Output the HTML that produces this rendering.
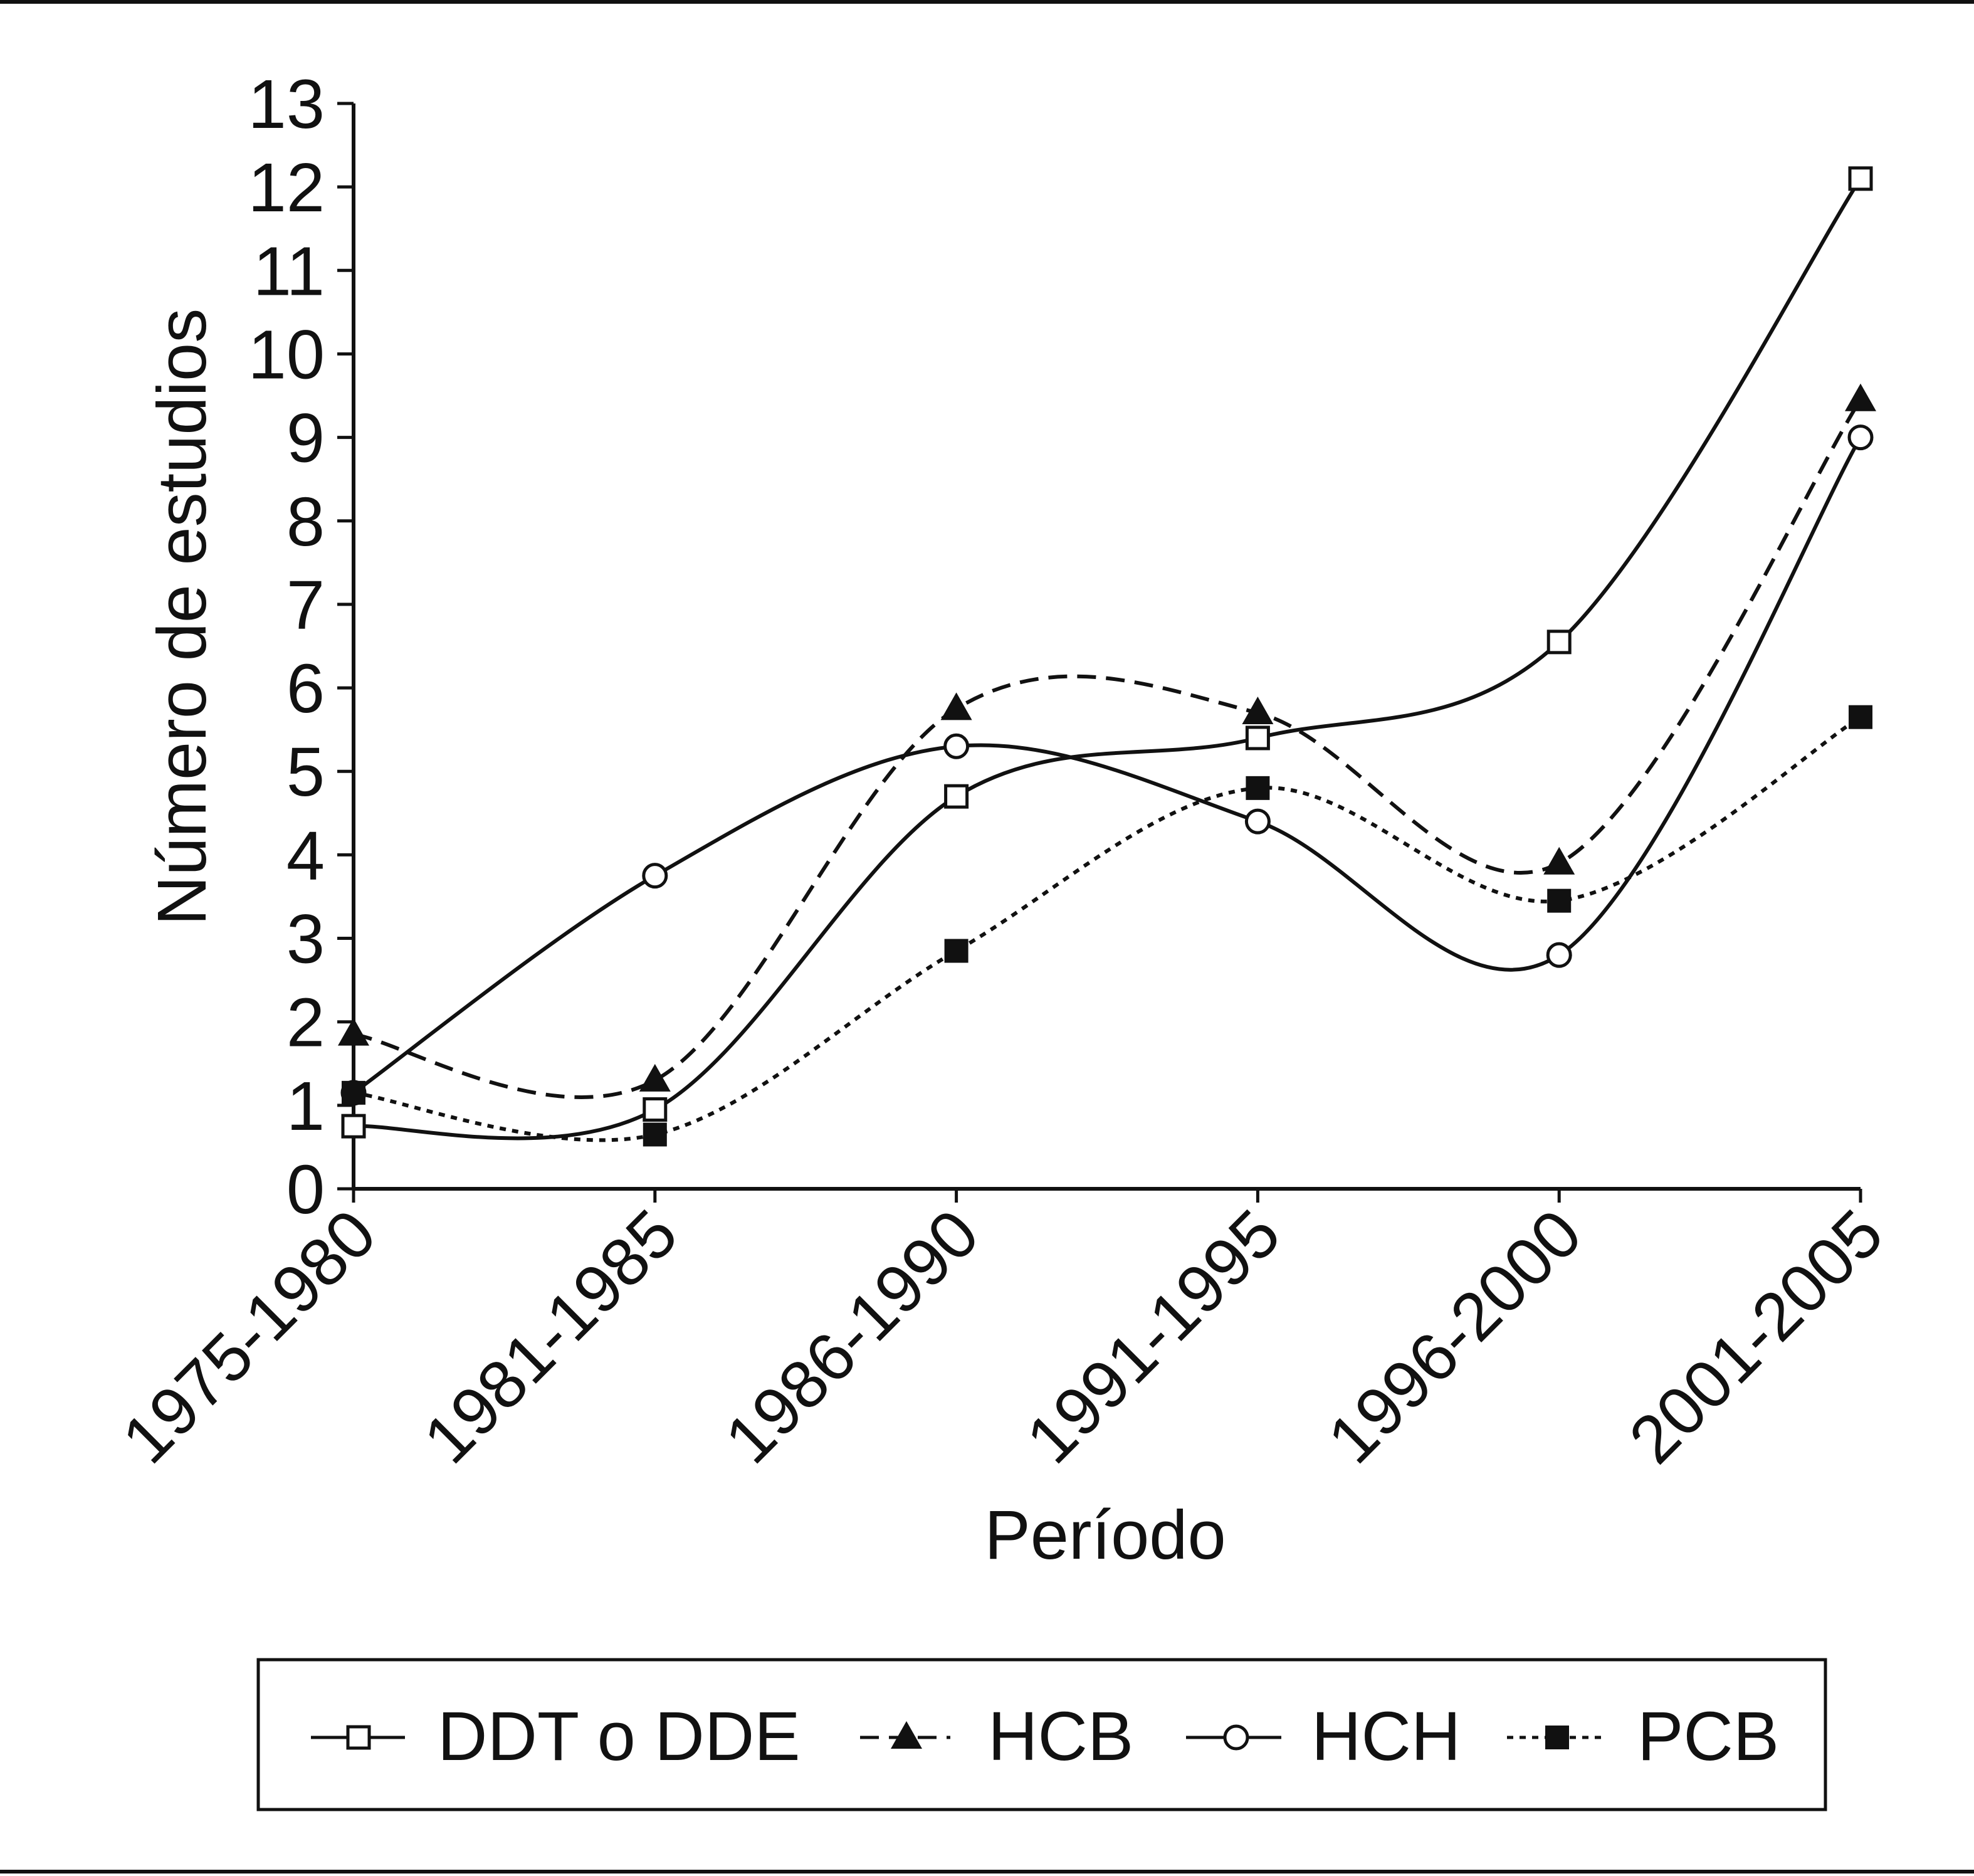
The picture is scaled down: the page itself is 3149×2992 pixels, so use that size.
<!DOCTYPE html>
<html><head><meta charset="utf-8"><style>
html,body{margin:0;padding:0;background:#fff}
svg{display:block}
text{font-family:"Liberation Sans",Arial,sans-serif;fill:#111}
</style></head><body>
<svg id="c" width="3149" height="2992" viewBox="0 0 3149 2992" xmlns="http://www.w3.org/2000/svg">
<rect x="0" y="0" width="3149" height="6" fill="#111"/>
<rect x="0" y="2982" width="3149" height="6" fill="#111"/>
<g id="axes"></g>
<g id="series"></g>
<text x="290" y="984" font-size="110" text-anchor="middle" transform="rotate(-90 290 984)" dy="38">Número de estudios</text>
<text x="1763" y="2486" font-size="110" text-anchor="middle">Período</text>
<rect x="412" y="2647" width="2500" height="239" fill="none" stroke="#111" stroke-width="5"/>
<g id="legend"></g>
</svg>
<script>
const categories=["1975-1980","1981-1985","1986-1990","1991-1995","1996-2000","2001-2005"];
const yTicks=[0,1,2,3,4,5,6,7,8,9,10,11,12,13];
const ddt=[0.75,0.95,4.7,5.4,6.55,12.1];
const hcb=[1.85,1.3,5.75,5.7,3.9,9.45];
const hch=[1.15,3.75,5.3,4.4,2.8,9.0];
const pcb=[1.15,0.65,2.85,4.8,3.45,5.65];
const seriesNames=["DDT o DDE","HCB","HCH","PCB"];

const NS="http://www.w3.org/2000/svg";
const X0=564,XS=480.8,Y0=1896,YS=(1896-165)/13;
const xs=i=>X0+i*XS, ys=v=>Y0-v*YS;
function mk(tag,attrs,parent){const e=document.createElementNS(NS,tag);for(const k in attrs)e.setAttribute(k,attrs[k]);parent.appendChild(e);return e;}
const axes=document.getElementById('axes');
let a=mk('line',{x1:X0,y1:ys(13),x2:X0,y2:Y0,stroke:'#111','stroke-width':6},axes);


a=mk('line',{x1:X0,y1:Y0,x2:xs(5),y2:Y0,stroke:'#111','stroke-width':6},axes);


yTicks.forEach(t=>{
 const l=mk('line',{x1:X0-26,y1:ys(t),x2:X0,y2:ys(t),stroke:'#111','stroke-width':5},axes);
 
 
 const tx=mk('text',{x:518,y:ys(t)+39,'font-size':110,'text-anchor':'end'},axes);
 tx.textContent=t;
 
 
});
categories.forEach((c,i)=>{
 const l=mk('line',{x1:xs(i),y1:Y0,x2:xs(i),y2:Y0+22,stroke:'#111','stroke-width':5},axes);
 
 
 const px=xs(i)+42,py=1975;
 const tx=mk('text',{x:px,y:py,'font-size':108,'text-anchor':'end',transform:`rotate(-45 ${px} ${py})`},axes);
 tx.textContent=c;
 
 
});
function smooth(vals){
 const p=vals.map((v,i)=>[xs(i),ys(v)]);
 let d=`M${p[0][0]},${p[0][1]}`;
 for(let i=0;i<p.length-1;i++){
  const p0=p[i-1]||p[i],p1=p[i],p2=p[i+1],p3=p[i+2]||p[i+1];
  const c1=[p1[0]+(p2[0]-p0[0])/6,p1[1]+(p2[1]-p0[1])/6];
  const c2=[p2[0]-(p3[0]-p1[0])/6,p2[1]-(p3[1]-p1[1])/6];
  d+=` C${c1[0]},${c1[1]} ${c2[0]},${c2[1]} ${p2[0]},${p2[1]}`;
 }
 return d;
}
function marker(type,x,y,g){
 if(type==='sq') return mk('rect',{x:x-17,y:y-17,width:34,height:34,fill:'#fff',stroke:'#111','stroke-width':5},g);
 if(type==='fsq') return mk('rect',{x:x-19,y:y-19,width:38,height:38,fill:'#111'},g);
 if(type==='tri') return mk('polygon',{points:`${x},${y-26} ${x-25},${y+18} ${x+25},${y+18}`,fill:'#111'},g);
 return mk('circle',{cx:x,cy:y,r:18,fill:'#fff',stroke:'#111','stroke-width':5},g);
}
const defs=[
 {vals:ddt,dash:'none',m:'sq',name:'ddt'},
 {vals:hcb,dash:'30 16',m:'tri',name:'hcb'},
 {vals:hch,dash:'none',m:'circ',name:'hch'},
 {vals:pcb,dash:'10 10',m:'fsq',name:'pcb'}
];
const sg=document.getElementById('series');
defs.forEach(s=>{
 const g=mk('g',{},sg);
 
 
 const pth=mk('path',{d:smooth(s.vals),fill:'none',stroke:'#111','stroke-width':6,'stroke-dasharray':s.dash},g);
 
 
 s.vals.forEach((v,i)=>{
  const m=marker(s.m,xs(i),ys(v),g);
  
  
 });
});
const lg=document.getElementById('legend');
const lx=[[496,646,572,698],[1372,1516,1446,1576],[1892,2044,1972,2092],[2404,2556,2484,2612]];
defs.forEach((s,i)=>{
 const g=mk('g',{},lg);
 
 
 const y=2771;
 mk('line',{x1:lx[i][0],y1:y,x2:lx[i][1],y2:y,stroke:'#111','stroke-width':5,'stroke-dasharray':s.dash},g);
 marker(s.m,lx[i][2],y,g);
 const t=mk('text',{x:lx[i][3],y:2807,'font-size':110},g);
 t.textContent=seriesNames[i];
});
</script>
</body></html>
